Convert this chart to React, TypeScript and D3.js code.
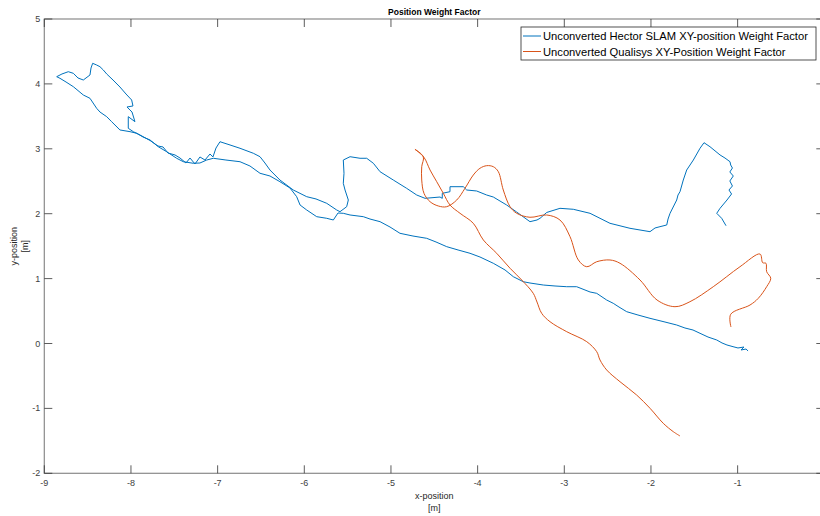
import React from "react";
import * as d3 from "d3";

// Hector SLAM trajectory [m]
const hectorX = [
  -0.880, -0.903, -0.961, -0.927, -0.996, -1.053, -1.123, -1.180, -1.241, -1.342,
  -1.434, -1.515, -1.608, -1.703, -1.838, -2.011, -2.150, -2.280, -2.369, -2.435,
  -2.511, -2.626, -2.703, -2.857, -2.972, -3.107, -3.242, -3.396, -3.473, -3.588,
  -3.684, -3.819, -3.973, -4.088, -4.226, -4.357, -4.480, -4.588, -4.746, -4.896,
  -5.011, -5.126, -5.242, -5.319, -5.472, -5.550, -5.611, -5.665, -5.741, -5.857,
  -5.972, -6.049, -6.088, -6.165, -6.281, -6.396, -6.511, -6.627, -6.742, -6.904,
  -7.050, -7.126, -7.204, -7.281, -7.396, -7.473, -7.588, -7.685, -7.780, -7.861,
  -7.934, -8.011, -8.127, -8.223, -8.280, -8.358, -8.396, -8.473, -8.550, -8.665,
  -8.749, -8.819, -8.857,
  -8.796, -8.723, -8.665, -8.611, -8.550, -8.473, -8.461, -8.442, -8.396, -8.358,
  -8.319, -8.280, -8.207, -8.127, -8.057, -7.992, -7.977, -8.046, -7.988, -7.954,
  -8.031, -8.031, -7.973,
  -7.896, -7.780, -7.688, -7.630, -7.573, -7.492, -7.434, -7.365, -7.319, -7.261,
  -7.204, -7.146, -7.088, -7.054,
  -7.019, -6.973, -6.857, -6.742, -6.588, -6.511, -6.454, -6.396, -6.281, -6.127,
  -5.972, -5.865, -5.741, -5.626, -5.588, -5.511, -5.492, -5.530, -5.550, -5.542,
  -5.550, -5.472, -5.357, -5.280, -5.203, -5.126, -4.973, -4.819, -4.703, -4.607,
  -4.434, -4.408, -4.408, -4.319, -4.319, -4.165, -4.126, -4.011, -3.896, -3.819,
  -3.665, -3.550, -3.396, -3.315, -3.280, -3.203, -3.050, -2.896, -2.703, -2.473,
  -2.242, -2.011, -1.953, -1.896, -1.818, -1.803, -1.780, -1.703, -1.688, -1.665,
  -1.627, -1.588, -1.511, -1.434, -1.388, -1.319, -1.203, -1.146, -1.088, -1.080,
  -1.060, -1.090, -1.050, -1.090, -1.060, -1.100, -1.070, -1.123, -1.203, -1.241,
  -1.184, -1.134,
];
const hectorY = [
  -0.115, -0.085, -0.100, -0.054, -0.069, -0.049, -0.023, 0.008, 0.054, 0.100,
  0.157, 0.208, 0.239, 0.285, 0.331, 0.388, 0.439, 0.490, 0.562, 0.619,
  0.670, 0.773, 0.794, 0.875, 0.875, 0.886, 0.901, 0.932, 0.952, 1.029,
  1.133, 1.236, 1.333, 1.390, 1.441, 1.492, 1.564, 1.621, 1.656, 1.698,
  1.795, 1.877, 1.918, 1.954, 1.980, 2.006, 2.011, 1.903, 1.929, 1.954,
  2.057, 2.134, 2.262, 2.396, 2.493, 2.581, 2.623, 2.735, 2.801, 2.827,
  2.854, 2.827, 2.781, 2.777, 2.801, 2.854, 2.955, 3.032, 3.136, 3.182,
  3.239, 3.264, 3.290, 3.418, 3.495, 3.567, 3.624, 3.778, 3.829, 3.957,
  4.029, 4.086, 4.111,
  4.153, 4.188, 4.163, 4.091, 4.060, 4.137, 4.245, 4.317, 4.291, 4.265,
  4.214, 4.153, 4.060, 3.952, 3.844, 3.752, 3.660, 3.644, 3.567, 3.418,
  3.495, 3.316, 3.264,
  3.213, 3.128, 3.043, 3.028, 2.935, 2.905, 2.858, 2.781, 2.858, 2.766,
  2.874, 2.827, 2.920, 2.874,
  3.012, 3.109, 3.059, 3.008, 2.931, 2.878, 2.781, 2.673, 2.519, 2.365,
  2.262, 2.227, 2.160, 2.057, 2.031, 2.108, 2.211, 2.365, 2.468, 2.623,
  2.827, 2.878, 2.854, 2.854, 2.777, 2.647, 2.519, 2.391, 2.288, 2.237,
  2.257, 2.237, 2.314, 2.339, 2.416, 2.416, 2.365, 2.350, 2.288, 2.257,
  2.134, 2.026, 1.877, 1.903, 1.929, 2.019, 2.083, 2.068, 2.006, 1.852,
  1.775, 1.723, 1.780, 1.800, 1.826, 1.918, 2.006, 2.211, 2.288, 2.339,
  2.519, 2.673, 2.827, 3.008, 3.094, 3.032, 2.905, 2.858, 2.801, 2.750,
  2.704, 2.643, 2.581, 2.504, 2.427, 2.365, 2.304, 2.211, 2.083, 2.006,
  1.929, 1.815,
];

// Qualisys trajectory [m]
const qualisysX = [
  -1.077, -1.080, -0.857, -0.762, -0.665, -0.618, -0.665, -0.673, -0.711, -0.742,
  -0.973, -1.281, -1.550, -1.723, -1.930, -2.126, -2.357, -2.473, -2.626, -2.741,
  -2.838, -2.934, -3.050, -3.203, -3.396, -3.549, -3.626, -3.704, -3.761, -3.819,
  -3.895, -3.973, -4.050, -4.146, -4.241, -4.357, -4.454, -4.549, -4.619, -4.645,
  -4.645, -4.627, -4.723, -4.620, -4.549, -4.472, -4.396, -4.319, -4.203, -4.050,
  -3.934, -3.780, -3.626, -3.491, -3.358, -3.315, -3.261, -3.165, -2.972, -2.741,
  -2.626, -2.588, -2.511, -2.357, -2.165, -2.011, -1.858, -1.742, -1.665,
];
const qualisysY = [
  0.254, 0.450, 0.593, 0.696, 0.875, 1.005, 1.106, 1.236, 1.245, 1.379,
  1.183, 0.875, 0.644, 0.567, 0.670, 0.978, 1.236, 1.287, 1.260, 1.183,
  1.287, 1.646, 1.903, 1.980, 1.945, 2.006, 2.108, 2.365, 2.647, 2.724,
  2.740, 2.700, 2.596, 2.391, 2.211, 2.108, 2.119, 2.185, 2.314, 2.519,
  2.724, 2.878, 2.992, 2.870, 2.673, 2.493, 2.314, 2.134, 2.006, 1.852,
  1.595, 1.390, 1.159, 0.978, 0.773, 0.639, 0.465, 0.336, 0.182, 0.028,
  -0.126, -0.254, -0.408, -0.589, -0.794, -0.998, -1.230, -1.359, -1.425,
];

const xTicks = [-9, -8, -7, -6, -5, -4, -3, -2, -1];
const yTicks = [-2, -1, 0, 1, 2, 3, 4, 5];
const legendLabels = [
  "Unconverted Hector SLAM XY-position Weight Factor",
  "Unconverted Qualisys XY-Position Weight Factor",
];
const seriesColors = ["#0072BD", "#D95319"];

const width = 820, height = 516;
// the axes run to x = 0, just past the right edge of the picture
const margin = { top: 19, right: -4.3, bottom: 42.7, left: 44.3 };
const font = "'Liberation Sans', Arial, Helvetica, sans-serif";

export default function App() {
  const x = d3.scaleLinear().domain([-9, 0]).range([margin.left, width - margin.right]);
  const y = d3.scaleLinear().domain([-2, 5]).range([height - margin.bottom, margin.top]);
  const x0 = x(-9), x1 = x(0), y0 = y(-2), y1 = y(5);
  const tickLen = 8;

  const hector = hectorX.map((d, i) => [d, hectorY[i]] as [number, number]);
  const qualisys = qualisysX.map((d, i) => [d, qualisysY[i]] as [number, number]);

  const line = d3.line<[number, number]>().x(d => x(d[0])).y(d => y(d[1]));
  const smooth = d3.line<[number, number]>().x(d => x(d[0])).y(d => y(d[1])).curve(d3.curveCatmullRom.alpha(0.5));

  const lx = 521, ly = 27, lw = 295, lh = 33;

  return (
    <svg width={width} height={height} style={{ position: "absolute", left: 0, top: 0, background: "#fff" }}>
      <rect x={0} y={0} width={width} height={height} fill="#fff" />
      {/* data */}
      <path d={line(hector) || ""} fill="none" stroke={seriesColors[0]} strokeWidth={1} />
      <path d={smooth(qualisys) || ""} fill="none" stroke={seriesColors[1]} strokeWidth={1} />

      {/* box */}
      <rect x={x0} y={y1} width={x1 - x0} height={y0 - y1} fill="none" stroke="#8a8a8a" strokeWidth={1.2} />

      {/* x ticks */}
      {xTicks.map(t => (
        <g key={"x" + t}>
          <line x1={x(t)} x2={x(t)} y1={y0} y2={y0 - tickLen} stroke="#333" strokeWidth={0.8} />
          <line x1={x(t)} x2={x(t)} y1={y1} y2={y1 + tickLen} stroke="#333" strokeWidth={0.8} />
          <text x={x(t)} y={y0 + 13} textAnchor="middle" fontFamily={font} fontSize={9} fill="#404040">{t}</text>
        </g>
      ))}
      {/* y ticks */}
      {yTicks.map(t => (
        <g key={"y" + t}>
          <line x1={x0} x2={x0 + tickLen} y1={y(t)} y2={y(t)} stroke="#333" strokeWidth={0.8} />
          <line x1={x1} x2={x1 - tickLen} y1={y(t)} y2={y(t)} stroke="#333" strokeWidth={0.8} />
          <text x={x0 - 4} y={y(t) + 3} textAnchor="end" fontFamily={font} fontSize={9} fill="#404040">{t}</text>
        </g>
      ))}

      {/* title and labels */}
      <text x={(x0 + x1) / 2} y={15} textAnchor="middle" fontFamily={font} fontSize={8.5} fontWeight="bold" fill="#000">Position Weight Factor</text>
      <text x={(x0 + x1) / 2} y={499} textAnchor="middle" fontFamily={font} fontSize={9} fill="#262626">x-position</text>
      <text x={(x0 + x1) / 2} y={511} textAnchor="middle" fontFamily={font} fontSize={9} fill="#262626">[m]</text>
      <g transform={`translate(17,${(y0 + y1) / 2}) rotate(-90)`}>
        <text x={0} y={0} textAnchor="middle" fontFamily={font} fontSize={9} fill="#262626">y-position</text>
        <text x={0} y={11} textAnchor="middle" fontFamily={font} fontSize={9} fill="#262626">[m]</text>
      </g>

      {/* legend */}
      <rect x={lx} y={ly} width={lw} height={lh} fill="#fff" stroke="#262626" strokeWidth={0.8} />
      {legendLabels.map((lab, i) => (
        <g key={lab}>
          <line x1={lx + 2} x2={lx + 20} y1={ly + 9 + i * 15.5} y2={ly + 9 + i * 15.5} stroke={seriesColors[i]} strokeWidth={1} />
          <text x={lx + 22} y={ly + 13 + i * 15.5} fontFamily={font} fontSize={11.2} fill="#000">{lab}</text>
        </g>
      ))}
    </svg>
  );
}
